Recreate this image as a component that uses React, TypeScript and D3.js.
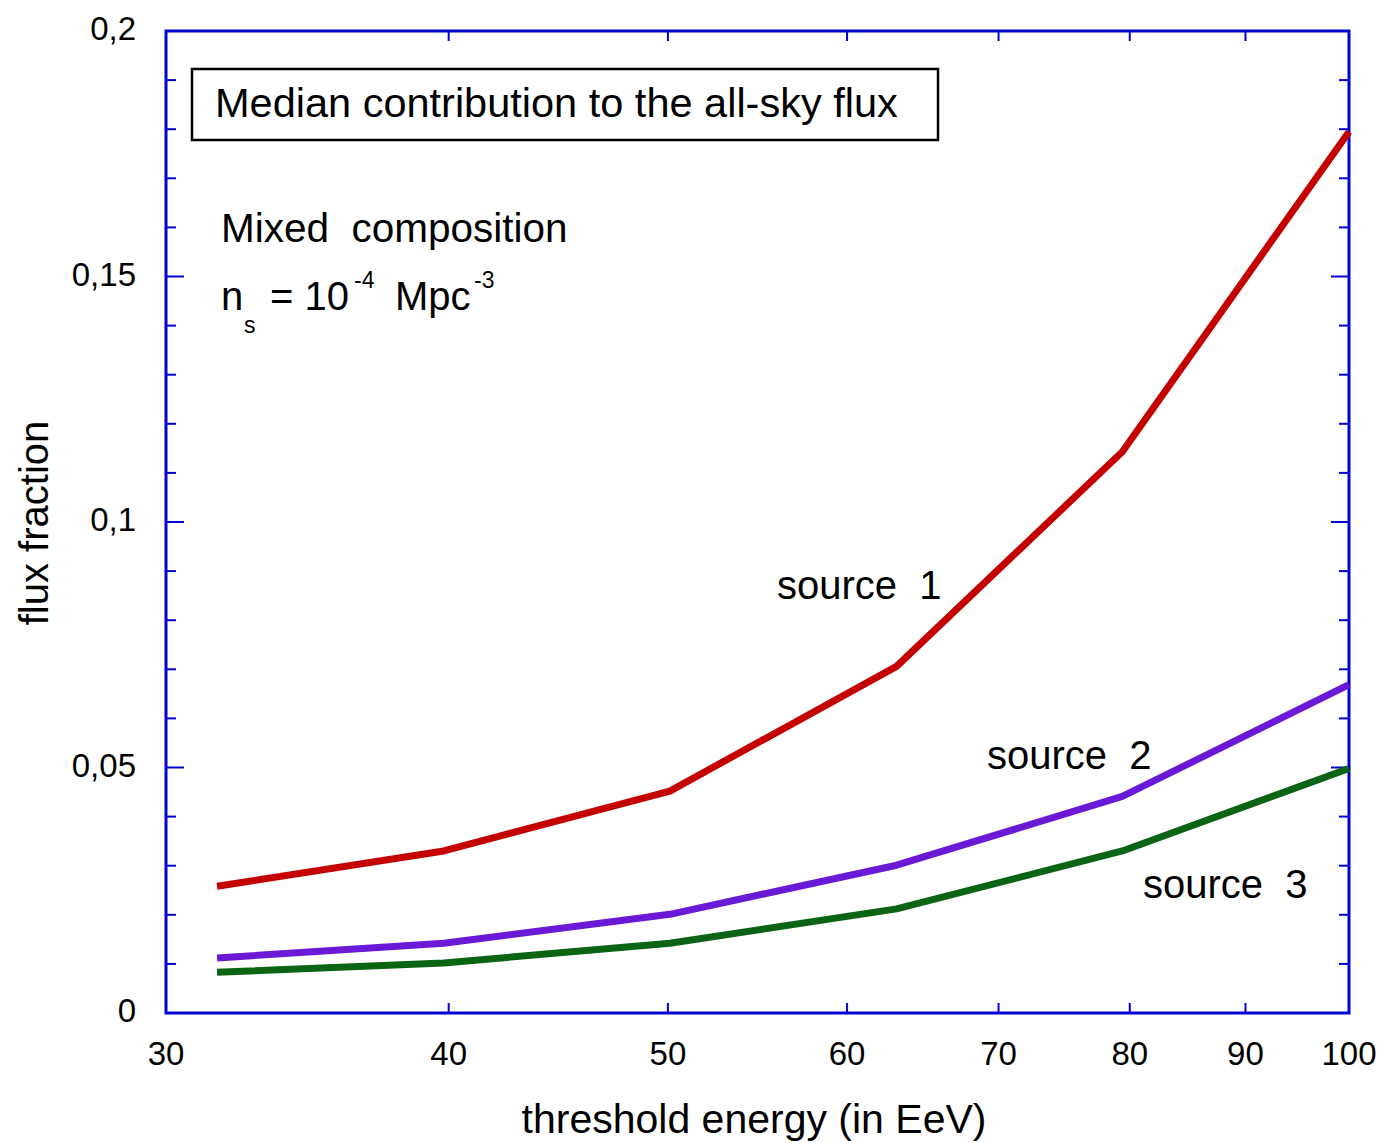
import * as d3 from "d3";

// threshold energies (EeV), log-spaced
const energies = [31.6, 39.8, 50.1, 63.1, 79.4, 100];
const source1 = [0.0258, 0.033, 0.0452, 0.0706, 0.1143, 0.1795];
const source2 = [0.0112, 0.0142, 0.0201, 0.0301, 0.0441, 0.0669];
const source3 = [0.0083, 0.0102, 0.0142, 0.0212, 0.033, 0.0498];

const xTicks = [30, 40, 50, 60, 70, 80, 90, 100];
const yMajor = [0, 0.05, 0.1, 0.15, 0.2];
const yMinor = d3.range(0, 0.2001, 0.01);

const series = [
  { name: "source  1", values: source1, color: "#c40000", lx: 777, ly: 599 },
  { name: "source  2", values: source2, color: "#6a1ad6", lx: 987, ly: 769 },
  { name: "source  3", values: source3, color: "#0b6414", lx: 1143, ly: 898 },
];

const W = 1384;
const H = 1143;
const left = 166;
const right = 1349;
const top = 31;
const bottom = 1013;
const axisColor = "#0000d0";
const font = "'Liberation Sans', Arial, Helvetica, sans-serif";

export default function App() {
  const x = d3.scaleLog().domain([30, 100]).range([left, right]);
  const y = d3.scaleLinear().domain([0, 0.2]).range([bottom, top]);

  const line = d3
    .line<number>()
    .x((_, i) => x(energies[i]))
    .y((d) => y(d));

  const fmt = (v: number) => (v === 0 ? "0" : String(+v.toFixed(2)).replace(".", ","));

  return (
    <svg width={W} height={H} style={{ position: "absolute", left: 0, top: 0 }} fontFamily={font}>
      <rect width={W} height={H} fill="#fff" />

      {/* y ticks, both sides */}
      {yMinor.map((v, i) => {
        const major = i % 5 === 0;
        const len = major ? 18 : 10;
        return (
          <g key={"ym" + i} stroke={axisColor} strokeWidth={2}>
            <line x1={left} x2={left + len} y1={y(v)} y2={y(v)} />
            <line x1={right} x2={right - len} y1={y(v)} y2={y(v)} />
          </g>
        );
      })}

      {/* x ticks, top and bottom */}
      {xTicks.slice(1, -1).map((v) => (
        <g key={"xt" + v} stroke={axisColor} strokeWidth={2}>
          <line x1={x(v)} x2={x(v)} y1={bottom} y2={bottom - 10} />
          <line x1={x(v)} x2={x(v)} y1={top} y2={top + 10} />
        </g>
      ))}

      <rect x={left} y={top} width={right - left} height={bottom - top} fill="none" stroke={axisColor} strokeWidth={3} />

      {/* y tick labels */}
      {yMajor.map((v) => (
        <text key={"yl" + v} x={136} y={y(v) + 9} fontSize={33} textAnchor="end" fill="#000">
          {fmt(v)}
        </text>
      ))}

      {/* x tick labels */}
      {xTicks.map((v) => (
        <text key={"xl" + v} x={x(v)} y={1065} fontSize={33} textAnchor="middle" fill="#000">
          {v}
        </text>
      ))}

      {/* series */}
      {series.map((s) => (
        <g key={s.name}>
          <path d={line(s.values) || ""} fill="none" stroke={s.color} strokeWidth={7} strokeLinejoin="round" />
          <text x={s.lx} y={s.ly} fontSize={40} fill="#000" style={{ whiteSpace: "pre" }}>
            {s.name}
          </text>
        </g>
      ))}

      {/* title box */}
      <rect x={192} y={69} width={746} height={71} fill="#fff" stroke="#000" strokeWidth={2.5} />
      <text x={215} y={117} fontSize={41.5} fill="#000">
        Median contribution to the all-sky flux
      </text>

      <text x={221} y={242} fontSize={40.5} fill="#000" style={{ whiteSpace: "pre" }}>
        Mixed  composition
      </text>
      <g fontSize={40} fill="#000">
        <text x={221} y={310}>n</text>
        <text x={244} y={333} fontSize={23}>s</text>
        <text x={270} y={310}>= 10</text>
        <text x={354} y={288} fontSize={23}>-4</text>
        <text x={395} y={310}>Mpc</text>
        <text x={474} y={288} fontSize={23}>-3</text>
      </g>

      {/* axis titles */}
      <text x={754} y={1133} fontSize={41} textAnchor="middle" fill="#000">
        threshold energy (in EeV)
      </text>
      <text transform={`translate(48, 523) rotate(-90)`} fontSize={40} textAnchor="middle" fill="#000">
        flux fraction
      </text>
    </svg>
  );
}
